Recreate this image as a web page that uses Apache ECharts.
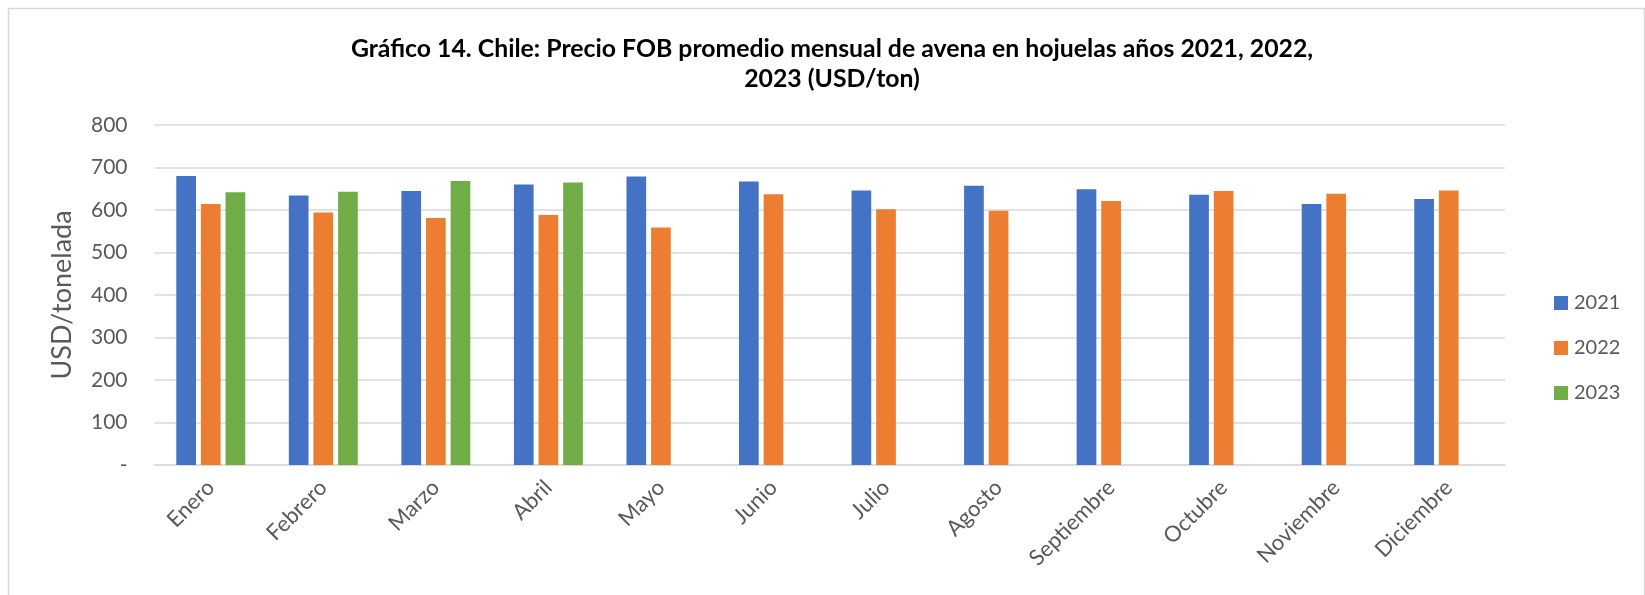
<!DOCTYPE html>
<html>
<head>
<meta charset="utf-8">
<script src="https://cdn.jsdelivr.net/npm/echarts@6/dist/echarts.min.js"></script>
<style>
html,body{margin:0;padding:0;background:#fff;}
#chart{width:1645px;height:595px;}
</style>
</head>
<body>
<div id="chart"></div>
<script>
const months = ['Enero','Febrero','Marzo','Abril','Mayo','Junio','Julio','Agosto','Septiembre','Octubre','Noviembre','Diciembre'];
const v2021 = [680, 634, 645, 660, 679, 667, 646, 657, 649, 636, 614, 626];
const v2022 = [614, 594, 581, 588, 559, 637, 602, 598, 621, 645, 638, 646];
const v2023 = [642, 643, 668, 665, null, null, null, null, null, null, null, null];
const yTicks = [0, 100, 200, 300, 400, 500, 600, 700, 800];
const titleText = 'Gráfico 14. Chile: Precio FOB promedio mensual de avena en hojuelas años 2021, 2022,\n2023 (USD/ton)';

const FONT = 'Lato, "Open Sans", sans-serif';
const TXT = '#595959';
const chart = echarts.init(document.getElementById('chart'), null, {renderer: 'canvas'});
const mk = (name, data, color) => ({
  name, type: 'bar', data, barWidth: 19.7, barGap: '25%',
  itemStyle: {color}, emphasis: {disabled: true}
});
chart.setOption({
  animation: false,
  backgroundColor: '#fff',
  graphic: [{
    type: 'rect', left: 6, top: 6, silent: true,
    shape: {width: 1636, height: 620},
    style: {fill: 'none', stroke: '#d9d9d9', lineWidth: 1.5}
  }],
  title: {
    text: titleText, left: 827, top: 29, textAlign: 'center',
    textStyle: {fontFamily: FONT, fontWeight: 'bold', fontSize: 24.8, color: '#000', lineHeight: 30}
  },
  legend: {
    orient: 'vertical', left: 1549, top: 288,
    itemWidth: 14, itemHeight: 14, itemGap: 25, icon: 'rect',
    textStyle: {fontFamily: FONT, fontSize: 20, color: TXT, lineHeight: 20, padding: [0,0,0,1]},
    data: ['2021','2022','2023']
  },
  grid: {left: 154.5, right: 140, top: 125, bottom: 130, containLabel: false},
  xAxis: {
    type: 'category', data: months,
    axisTick: {show: false},
    axisLine: {lineStyle: {color: '#d9d9d9', width: 1.5}},
    axisLabel: {rotate: 45, fontFamily: FONT, fontSize: 22, color: TXT, margin: 19, interval: 0}
  },
  yAxis: {
    type: 'value', min: yTicks[0], max: yTicks[yTicks.length-1], interval: 100,
    name: 'USD/tonelada', nameLocation: 'middle', nameGap: 79,
    nameTextStyle: {fontFamily: FONT, fontSize: 27, color: TXT},
    axisLine: {show: false}, axisTick: {show: false},
    splitLine: {lineStyle: {color: '#d9d9d9', width: 1.5}},
    axisLabel: {fontFamily: FONT, fontSize: 21, color: TXT, margin: 27,
      formatter: v => v === 0 ? '-' : String(v)}
  },
  series: [mk('2021', v2021, '#4472C4'), mk('2022', v2022, '#ED7D31'), mk('2023', v2023, '#70AD47')]
});
</script>
</body>
</html>
